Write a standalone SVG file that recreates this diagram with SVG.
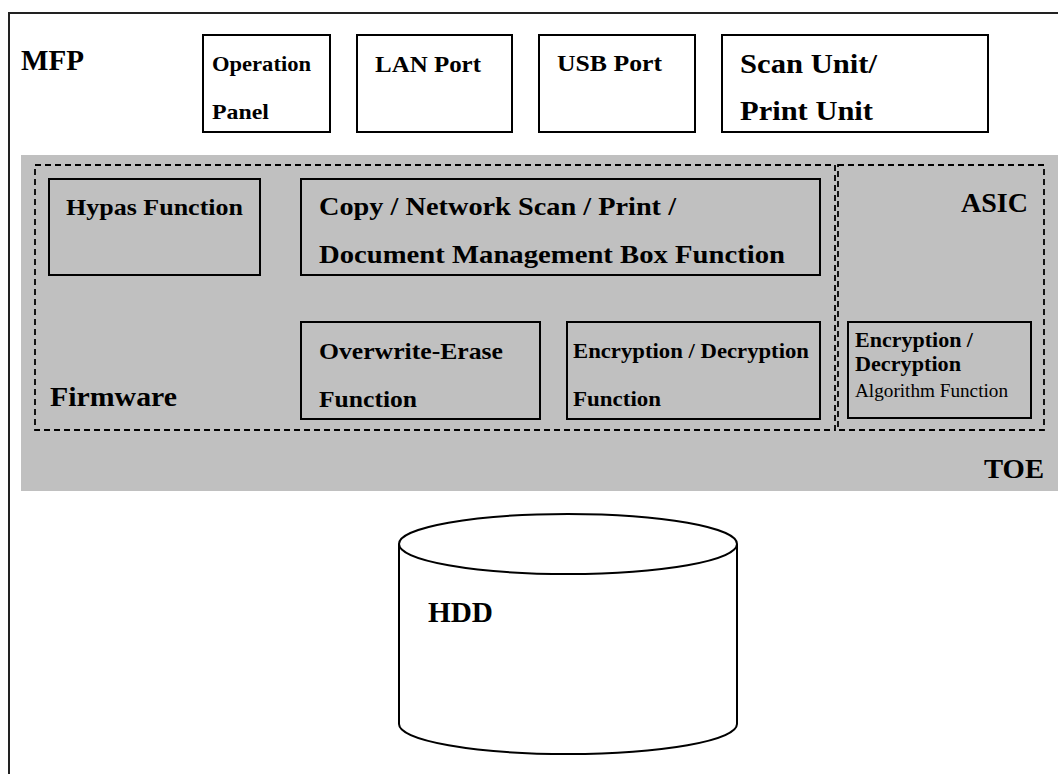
<svg xmlns="http://www.w3.org/2000/svg" width="1058" height="774" viewBox="0 0 1058 774">
<style>
  text { font-family: "Liberation Serif", "Times New Roman", serif; font-weight: bold; fill: #000; }
  .reg { font-weight: normal; }
  .box { fill: none; stroke: #000; stroke-width: 2; }
  .dash { fill: none; stroke: #000; stroke-width: 1.8; stroke-dasharray: 6 4; }
</style>
<rect x="0" y="0" width="1058" height="774" fill="#fff"/>
<g id="mfp">
  <rect x="9" y="13" width="1060" height="780" fill="#fff" stroke="#222" stroke-width="2"/>
  <text x="21" y="70" font-size="29" textLength="63" lengthAdjust="spacingAndGlyphs">MFP</text>
</g>
<g id="operation-panel">
  <rect class="box" x="203" y="35" width="127" height="97"/>
  <text x="212" y="71" font-size="22" textLength="99" lengthAdjust="spacingAndGlyphs">Operation</text>
  <text x="212" y="119" font-size="22" textLength="57" lengthAdjust="spacingAndGlyphs">Panel</text>
</g>
<g id="lan-port">
  <rect class="box" x="357" y="35" width="155" height="97"/>
  <text x="375" y="72" font-size="23" textLength="106" lengthAdjust="spacingAndGlyphs">LAN Port</text>
</g>
<g id="usb-port">
  <rect class="box" x="539" y="35" width="156" height="97"/>
  <text x="557" y="71" font-size="23" textLength="105" lengthAdjust="spacingAndGlyphs">USB Port</text>
</g>
<g id="scan-print-unit">
  <rect class="box" x="722" y="35" width="266" height="97"/>
  <text x="740" y="73" font-size="28" textLength="137" lengthAdjust="spacingAndGlyphs">Scan Unit/</text>
  <text x="740" y="120" font-size="28" textLength="133" lengthAdjust="spacingAndGlyphs">Print Unit</text>
</g>
<g id="toe">
  <rect x="21" y="155" width="1040" height="336" fill="#c0c0c0"/>
  <text x="984" y="478" font-size="27" textLength="60" lengthAdjust="spacingAndGlyphs">TOE</text>
</g>
<g id="firmware">
  <rect class="dash" x="35" y="165" width="800" height="265"/>
  <text x="50" y="406" font-size="28" textLength="127" lengthAdjust="spacingAndGlyphs">Firmware</text>
</g>
<g id="asic">
  <rect class="dash" x="838" y="165" width="206" height="265"/>
  <text x="961" y="212" font-size="27" textLength="67" lengthAdjust="spacingAndGlyphs">ASIC</text>
</g>
<g id="hypas-function">
  <rect class="box" x="49" y="179" width="211" height="96"/>
  <text x="66" y="215" font-size="24" textLength="177" lengthAdjust="spacingAndGlyphs">Hypas Function</text>
</g>
<g id="copy-scan-print-box-function">
  <rect class="box" x="301" y="179" width="519" height="96"/>
  <text x="319" y="215" font-size="26" textLength="357" lengthAdjust="spacingAndGlyphs">Copy / Network Scan / Print /</text>
  <text x="319" y="263" font-size="26" textLength="466" lengthAdjust="spacingAndGlyphs">Document Management Box Function</text>
</g>
<g id="overwrite-erase-function">
  <rect class="box" x="301" y="322" width="239" height="97"/>
  <text x="319" y="359" font-size="24" textLength="184" lengthAdjust="spacingAndGlyphs">Overwrite-Erase</text>
  <text x="319" y="407" font-size="24" textLength="98" lengthAdjust="spacingAndGlyphs">Function</text>
</g>
<g id="encryption-function">
  <rect class="box" x="567" y="322" width="253" height="97"/>
  <text x="573" y="358" font-size="21" textLength="236" lengthAdjust="spacingAndGlyphs">Encryption / Decryption</text>
  <text x="573" y="406" font-size="21" textLength="88" lengthAdjust="spacingAndGlyphs">Function</text>
</g>
<g id="algorithm-function">
  <rect class="box" x="848" y="322" width="183" height="96"/>
  <text x="855" y="347" font-size="20" textLength="118" lengthAdjust="spacingAndGlyphs">Encryption /</text>
  <text x="855" y="371" font-size="20" textLength="106" lengthAdjust="spacingAndGlyphs">Decryption</text>
  <text class="reg" x="855" y="397" font-size="19" textLength="153" lengthAdjust="spacingAndGlyphs">Algorithm Function</text>
</g>
<g id="hdd">
  <path d="M399,544 L399,724 A169,30 0 0 0 737,724 L737,544" fill="#fff" stroke="#000" stroke-width="2"/>
  <ellipse cx="568" cy="544" rx="169" ry="30" fill="#fff" stroke="#000" stroke-width="2"/>
  <text x="428" y="622" font-size="29" textLength="65" lengthAdjust="spacingAndGlyphs">HDD</text>
</g>
<g id="connectors"/>
</svg>
